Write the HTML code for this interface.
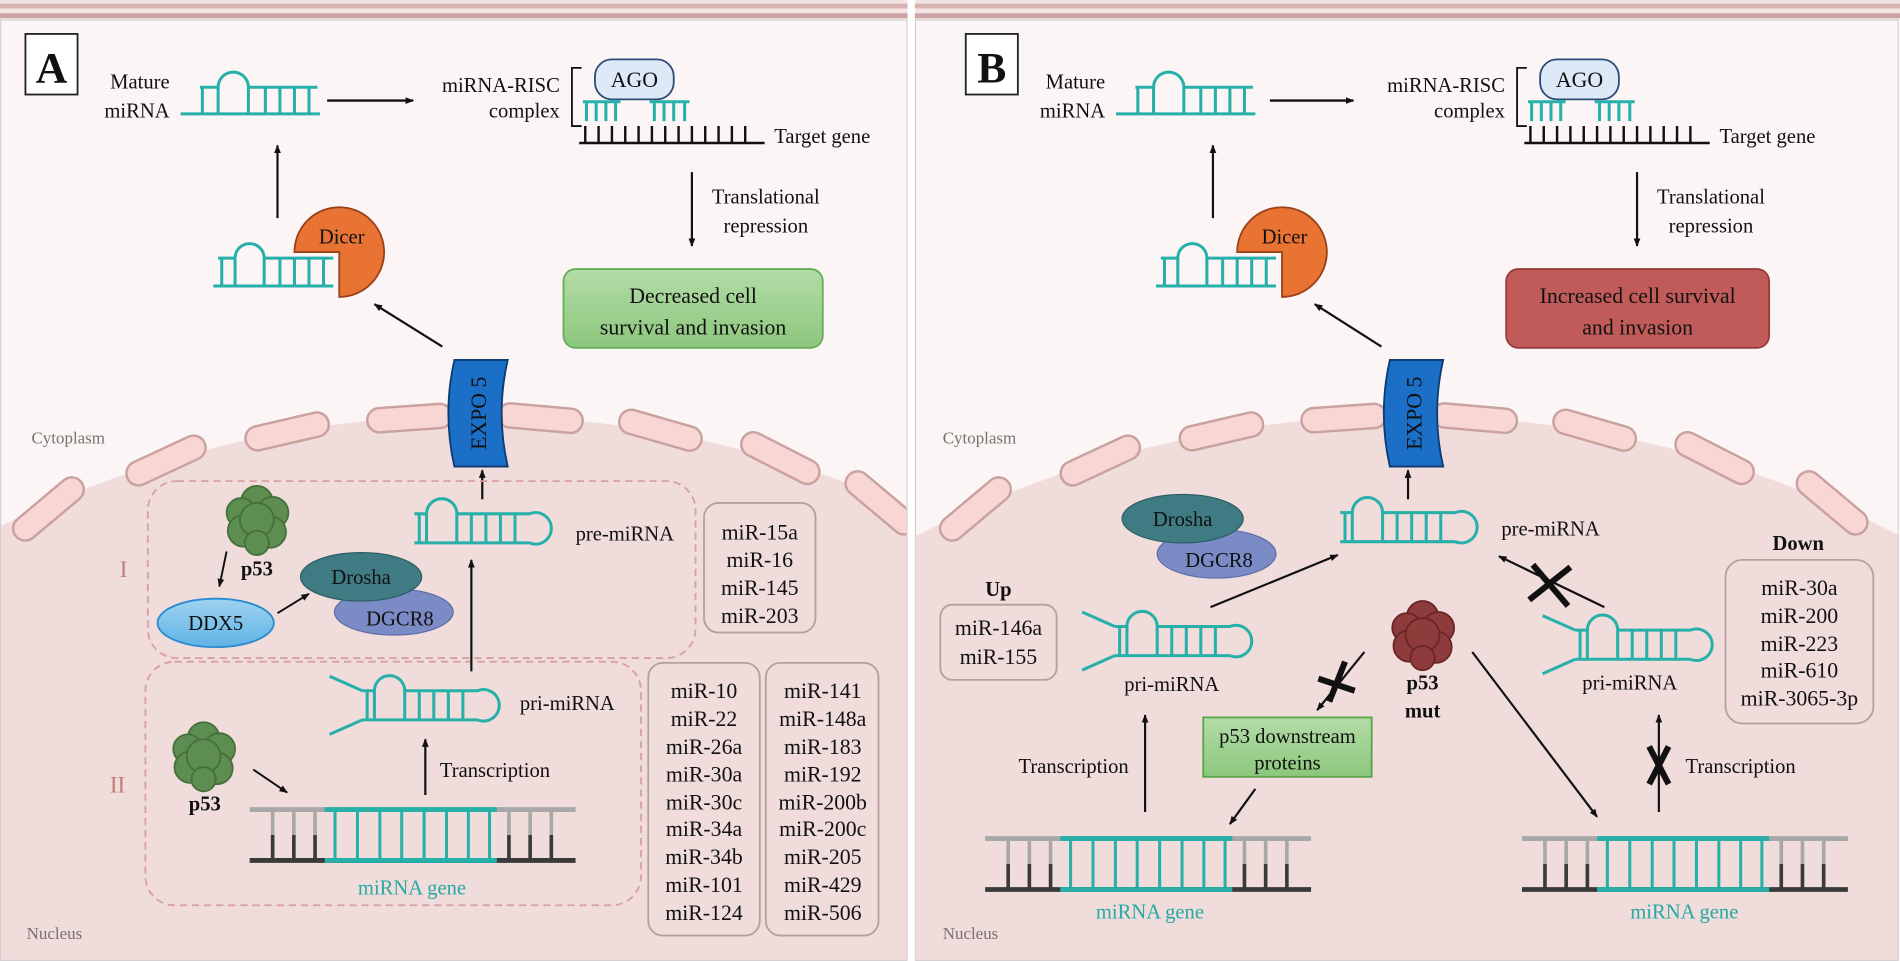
<!DOCTYPE html>
<html><head><meta charset="utf-8"><style>
html,body{margin:0;padding:0;background:#fff;width:1900px;height:961px;overflow:hidden;}
svg{display:block;position:absolute;left:0;top:0;}
text{font-family:"Liberation Serif",serif;fill:#111;}
</style></head><body>
<svg width="1900" height="961" viewBox="0 0 1568 793" preserveAspectRatio="none" xmlns="http://www.w3.org/2000/svg">
<defs>
<marker id="ah" viewBox="0 0 10 10" refX="9" refY="5" markerWidth="7" markerHeight="7" orient="auto-start-reverse" markerUnits="userSpaceOnUse"><path d="M0,1 L10,5 L0,9 Z" fill="#111"/></marker>
<clipPath id="cA"><rect x="1" y="16" width="747" height="776"/></clipPath>
<clipPath id="cB"><rect x="756" y="16" width="811" height="776"/></clipPath>
<linearGradient id="gG" x1="0" y1="0" x2="0" y2="1"><stop offset="0" stop-color="#b3dca7"/><stop offset="1" stop-color="#8cc77d"/></linearGradient>
<linearGradient id="gD" x1="0" y1="0" x2="0" y2="1"><stop offset="0" stop-color="#9fd4ef"/><stop offset="1" stop-color="#5fb2e6"/></linearGradient>
<g id="pill"><rect x="-35" y="-10" width="70" height="20" rx="10" fill="#f8d6d4" stroke="#c9a19f" stroke-width="2"/></g>
<g id="mature" fill="none" stroke="#27b0aa" stroke-width="2.5"><path d="M0,0H115 M16,-22H31 A12.5,12.5 0 0 1 56,-22 H113 M18,-22V0 M31,-22V0 M56,-22V0 M70,-22V0 M82,-22V0 M94,-22V0 M106,-22V0"/></g>
<g id="pre" fill="none" stroke="#27b0aa" stroke-width="2.5"><path d="M0,0H95 M0,-24H10 A12.5,12.5 0 0 1 35,-24 H95 A13,13 0 1 1 95,0 M4,-24V0 M10,-24V0 M35,-24V0 M47,-24V0 M59,-24V0 M71,-24V0 M83,-24V0"/></g>
<g id="pri"><use href="#pre"/><path d="M0,-24 L-27,-36 M0,0 L-27,12" stroke="#27b0aa" stroke-width="2.5" fill="none"/></g>
<g id="dna" stroke-width="3">
<path d="M19,0V21 M36.5,0V21 M54,0V21 M214,0V21 M231.5,0V21 M249,0V21" stroke="#a8a8a8"/>
<path d="M19,21V42 M36.5,21V42 M54,21V42 M214,21V42 M231.5,21V42 M249,21V42" stroke="#3a3a3a"/>
<path d="M70.5,0V42 M89,0V42 M107.5,0V42 M125.5,0V42 M144,0V42 M162.5,0V42 M180.5,0V42 M198,0V42" stroke="#27b0aa" stroke-width="2.5"/>
<path d="M0,0H269" stroke="#a8a8a8" stroke-width="4"/>
<path d="M0,42H269" stroke="#3a3a3a" stroke-width="4"/>
<path d="M62,0H204 M62,42H204" stroke="#27b0aa" stroke-width="4"/>
</g>
<g id="blob" stroke-width="1.5">
<circle cx="0" cy="-14" r="13"/><circle cx="-13" cy="-5" r="12"/><circle cx="13" cy="-5" r="13"/>
<circle cx="-11" cy="10" r="13"/><circle cx="11" cy="11" r="13"/><circle cx="0" cy="1" r="14"/><circle cx="0" cy="20" r="10"/>
</g>
</defs>

<rect x="0" y="0" width="1568" height="16" fill="#f3e4e4"/>
<rect x="0" y="3" width="1568" height="4" fill="#d9b4b3"/>
<rect x="0" y="11" width="1568" height="4" fill="#caa3a2"/>
<rect x="749" y="0" width="6" height="793" fill="#fff"/>

<g clip-path="url(#cA)">
<rect x="0" y="16" width="749" height="777" fill="#fbf6f5"/>
<circle cx="391" cy="1224" r="881" fill="#efdcdb"/>
<use href="#pill" transform="translate(40,420) rotate(-40)"/>
<use href="#pill" transform="translate(137,380) rotate(-25)"/>
<use href="#pill" transform="translate(237,356) rotate(-13)"/>
<use href="#pill" transform="translate(338,345) rotate(-4)"/>
<use href="#pill" transform="translate(446,345) rotate(5)"/>
<use href="#pill" transform="translate(545,355) rotate(16)"/>
<use href="#pill" transform="translate(644,378) rotate(27)"/>
<use href="#pill" transform="translate(727,415) rotate(40)"/>
</g>
<rect x="0.5" y="16.5" width="748" height="776" fill="none" stroke="#d6cfcf" stroke-width="1"/>

<g clip-path="url(#cB)">
<rect x="755" y="16" width="813" height="777" fill="#fbf6f5"/>
<circle cx="1162" cy="1224" r="881" fill="#efdcdb"/>
<use href="#pill" transform="translate(805,420) rotate(-40)"/>
<use href="#pill" transform="translate(908,380) rotate(-25)"/>
<use href="#pill" transform="translate(1008,356) rotate(-13)"/>
<use href="#pill" transform="translate(1109,345) rotate(-4)"/>
<use href="#pill" transform="translate(1217,345) rotate(5)"/>
<use href="#pill" transform="translate(1316,355) rotate(16)"/>
<use href="#pill" transform="translate(1415,378) rotate(27)"/>
<use href="#pill" transform="translate(1512,415) rotate(40)"/>
</g>
<rect x="755.5" y="16.5" width="811" height="776" fill="none" stroke="#d6cfcf" stroke-width="1"/>

<g id="topA">
<rect x="21" y="28" width="43" height="50" fill="#fff" stroke="#222" stroke-width="1.5"/>
<text x="42.5" y="68" font-size="36" font-weight="bold" text-anchor="middle">A</text>
<text x="140" y="73" font-size="17" text-anchor="end">Mature</text>
<text x="140" y="97" font-size="17" text-anchor="end">miRNA</text>
<use href="#mature" transform="translate(149,94)"/>
<line x1="270" y1="83" x2="341" y2="83" stroke="#111" stroke-width="2" marker-end="url(#ah)"/>
<text x="462" y="76" font-size="17" text-anchor="end">miRNA-RISC</text>
<text x="462" y="97" font-size="17" text-anchor="end">complex</text>
<path d="M480,56 H472 V104 H480" fill="none" stroke="#111" stroke-width="1.5"/>
<rect x="491" y="49" width="65" height="33" rx="14" fill="#dde9f7" stroke="#2d4b7a" stroke-width="1.5"/>
<text x="523.5" y="72" font-size="18" text-anchor="middle">AGO</text>
<path d="M481,84H512 M484,84V100 M492,84V100 M500,84V100 M508,84V100 M536,84H569 M540,84V100 M548,84V100 M556,84V100 M565,84V100" stroke="#27b0aa" stroke-width="2.5" fill="none"/>
<path d="M478,118H631 M483,104V118 M494,104V118 M505,104V118 M516,104V118 M527,104V118 M538,104V118 M549,104V118 M560,104V118 M571,104V118 M582,104V118 M593,104V118 M604,104V118 M615,104V118" stroke="#111" stroke-width="2" fill="none"/>
<text x="639" y="118" font-size="17">Target gene</text>
<line x1="571" y1="142" x2="571" y2="203" stroke="#111" stroke-width="1.8" marker-end="url(#ah)"/>
<text x="632" y="168" font-size="17" text-anchor="middle">Translational</text>
<text x="632" y="192" font-size="17" text-anchor="middle">repression</text>
<line x1="229" y1="180" x2="229" y2="120" stroke="#111" stroke-width="1.8" marker-end="url(#ah)"/>
<path d="M280,208 L243,208 A37,37 0 1 1 280,245 Z" fill="#e97332" stroke="#9a4118" stroke-width="1.5"/>
<text x="282" y="201" font-size="17" text-anchor="middle">Dicer</text>
<g fill="none" stroke="#27b0aa" stroke-width="2.5"><path d="M176,236H275 M180,213H194 A12,12 0 0 1 218,213 H275 M183,213V236 M194,213V236 M218,213V236 M231,213V236 M243,213V236 M255,213V236 M267,213V236"/></g>
</g>
<rect x="465" y="222" width="214" height="65" rx="10" fill="url(#gG)" stroke="#67ad58" stroke-width="1.5"/>
<text x="572" y="250" font-size="18" text-anchor="middle">Decreased cell</text>
<text x="572" y="276" font-size="18" text-anchor="middle">survival and invasion</text>

<g transform="translate(776,0)">
<rect x="21" y="28" width="43" height="50" fill="#fff" stroke="#222" stroke-width="1.5"/>
<text x="42.5" y="68" font-size="36" font-weight="bold" text-anchor="middle">B</text>
<text x="136" y="73" font-size="17" text-anchor="end">Mature</text>
<text x="136" y="97" font-size="17" text-anchor="end">miRNA</text>
<use href="#mature" transform="translate(145,94)"/>
<line x1="272" y1="83" x2="341" y2="83" stroke="#111" stroke-width="2" marker-end="url(#ah)"/>
<text x="466" y="76" font-size="17" text-anchor="end">miRNA-RISC</text>
<text x="466" y="97" font-size="17" text-anchor="end">complex</text>
<path d="M484,56 H476 V104 H484" fill="none" stroke="#111" stroke-width="1.5"/>
<rect x="495" y="49" width="65" height="33" rx="14" fill="#dde9f7" stroke="#2d4b7a" stroke-width="1.5"/>
<text x="527.5" y="72" font-size="18" text-anchor="middle">AGO</text>
<path d="M485,84H516 M488,84V100 M496,84V100 M504,84V100 M512,84V100 M540,84H573 M544,84V100 M552,84V100 M560,84V100 M569,84V100" stroke="#27b0aa" stroke-width="2.5" fill="none"/>
<path d="M482,118H635 M487,104V118 M498,104V118 M509,104V118 M520,104V118 M531,104V118 M542,104V118 M553,104V118 M564,104V118 M575,104V118 M586,104V118 M597,104V118 M608,104V118 M619,104V118" stroke="#111" stroke-width="2" fill="none"/>
<text x="643" y="118" font-size="17">Target gene</text>
<line x1="575" y1="142" x2="575" y2="203" stroke="#111" stroke-width="1.8" marker-end="url(#ah)"/>
<text x="636" y="168" font-size="17" text-anchor="middle">Translational</text>
<text x="636" y="192" font-size="17" text-anchor="middle">repression</text>
<line x1="225" y1="180" x2="225" y2="120" stroke="#111" stroke-width="1.8" marker-end="url(#ah)"/>
<path d="M282,208 L245,208 A37,37 0 1 1 282,245 Z" fill="#e97332" stroke="#9a4118" stroke-width="1.5"/>
<text x="284" y="201" font-size="17" text-anchor="middle">Dicer</text>
<g fill="none" stroke="#27b0aa" stroke-width="2.5"><path d="M178,236H277 M182,213H196 A12,12 0 0 1 220,213 H277 M185,213V236 M196,213V236 M220,213V236 M233,213V236 M245,213V236 M257,213V236 M269,213V236"/></g>
<rect x="467" y="222" width="217" height="65" rx="10" fill="#c15b5a" stroke="#983b3a" stroke-width="1.5"/>
<text x="575.5" y="250" font-size="18" text-anchor="middle">Increased cell survival</text>
<text x="575.5" y="276" font-size="18" text-anchor="middle">and invasion</text>
</g>

<line x1="365" y1="286" x2="309" y2="251" stroke="#111" stroke-width="1.8" marker-end="url(#ah)"/>
<path d="M375,297 L419,297 Q409,341 419,385 L375,385 Q365,341 375,297 Z" fill="#1b6fc6" stroke="#0c3b70" stroke-width="1.5"/>
<text transform="translate(401,341) rotate(-90)" font-size="18" text-anchor="middle" fill="#0a1f3a">EXPO 5</text>
<line x1="398" y1="412" x2="398" y2="388" stroke="#111" stroke-width="1.8" marker-end="url(#ah)"/>
<text x="26" y="366" font-size="14" style="fill:#7a7070">Cytoplasm</text>
<text x="22" y="775" font-size="14" style="fill:#7a7070">Nucleus</text>

<rect x="122" y="397" width="452" height="146" rx="24" fill="none" stroke="#d9a09f" stroke-width="1.5" stroke-dasharray="6,4"/>
<rect x="120" y="546" width="409" height="201" rx="24" fill="none" stroke="#d9a09f" stroke-width="1.5" stroke-dasharray="6,4"/>
<text x="102" y="476" font-size="19" text-anchor="middle" style="fill:#c47b78">I</text>
<text x="97" y="654" font-size="19" text-anchor="middle" style="fill:#c47b78">II</text>

<use href="#blob" transform="translate(212,428)" fill="#5e8d52" stroke="#44703a"/>
<text x="212" y="475" font-size="17" font-weight="bold" text-anchor="middle">p53</text>
<line x1="187" y1="455" x2="181" y2="484" stroke="#111" stroke-width="1.6" marker-end="url(#ah)"/>
<ellipse cx="178" cy="514" rx="48" ry="20" fill="url(#gD)" stroke="#2a8bd0" stroke-width="1.5"/>
<text x="178" y="520" font-size="17" text-anchor="middle">DDX5</text>
<line x1="229" y1="506" x2="255" y2="490" stroke="#111" stroke-width="1.6" marker-end="url(#ah)"/>
<ellipse cx="325" cy="505" rx="49" ry="19" fill="#7b8bc6" stroke="#5e6da8" stroke-width="1"/>
<ellipse cx="298" cy="476" rx="50" ry="20" fill="#3f7b82" stroke="#2d5e64" stroke-width="1"/>
<text x="298" y="482" font-size="17" text-anchor="middle">Drosha</text>
<text x="330" y="516" font-size="17" text-anchor="middle">DGCR8</text>

<use href="#pre" transform="translate(342,448)"/>
<text x="475" y="446" font-size="17">pre-miRNA</text>
<line x1="389" y1="554" x2="389" y2="462" stroke="#111" stroke-width="1.8" marker-end="url(#ah)"/>

<use href="#blob" transform="translate(168,623)" fill="#5e8d52" stroke="#44703a"/>
<text x="169" y="669" font-size="17" font-weight="bold" text-anchor="middle">p53</text>
<line x1="209" y1="635" x2="237" y2="654" stroke="#111" stroke-width="1.6" marker-end="url(#ah)"/>
<use href="#pri" transform="translate(299,594)"/>
<text x="429" y="586" font-size="17">pri-miRNA</text>
<line x1="351" y1="656" x2="351" y2="610" stroke="#111" stroke-width="1.8" marker-end="url(#ah)"/>
<text x="363" y="641" font-size="17">Transcription</text>
<use href="#dna" transform="translate(206,668)"/>
<text x="340" y="738" font-size="17" text-anchor="middle" style="fill:#27a9a4">miRNA gene</text>

<rect x="581" y="415" width="92" height="107" rx="12" fill="none" stroke="#b5a0a0" stroke-width="1.5"/>
<g font-size="18" text-anchor="middle">
<text x="627" y="445">miR-15a</text><text x="627" y="468">miR-16</text><text x="627" y="491">miR-145</text><text x="627" y="514">miR-203</text>
</g>
<rect x="535" y="547" width="92" height="225" rx="12" fill="none" stroke="#b5a0a0" stroke-width="1.5"/>
<rect x="632" y="547" width="93" height="225" rx="12" fill="none" stroke="#b5a0a0" stroke-width="1.5"/>
<g font-size="18" text-anchor="middle">
<text x="581" y="576">miR-10</text><text x="581" y="599">miR-22</text><text x="581" y="622">miR-26a</text><text x="581" y="645">miR-30a</text><text x="581" y="668">miR-30c</text><text x="581" y="690">miR-34a</text><text x="581" y="713">miR-34b</text><text x="581" y="736">miR-101</text><text x="581" y="759">miR-124</text>
<text x="679" y="576">miR-141</text><text x="679" y="599">miR-148a</text><text x="679" y="622">miR-183</text><text x="679" y="645">miR-192</text><text x="679" y="668">miR-200b</text><text x="679" y="690">miR-200c</text><text x="679" y="713">miR-205</text><text x="679" y="736">miR-429</text><text x="679" y="759">miR-506</text>
</g>

<line x1="1140" y1="286" x2="1085" y2="251" stroke="#111" stroke-width="1.8" marker-end="url(#ah)"/>
<path d="M1147,297 L1191,297 Q1181,341 1191,385 L1147,385 Q1137,341 1147,297 Z" fill="#1b6fc6" stroke="#0c3b70" stroke-width="1.5"/>
<text transform="translate(1173,341) rotate(-90)" font-size="18" text-anchor="middle" fill="#0a1f3a">EXPO 5</text>
<line x1="1162" y1="412" x2="1162" y2="388" stroke="#111" stroke-width="1.8" marker-end="url(#ah)"/>
<text x="778" y="366" font-size="14" style="fill:#7a7070">Cytoplasm</text>
<text x="778" y="775" font-size="14" style="fill:#7a7070">Nucleus</text>

<ellipse cx="1004" cy="457" rx="49" ry="20" fill="#7b8bc6" stroke="#5e6da8" stroke-width="1"/>
<ellipse cx="976" cy="428" rx="50" ry="20" fill="#3f7b82" stroke="#2d5e64" stroke-width="1"/>
<text x="976" y="434" font-size="17" text-anchor="middle">Drosha</text>
<text x="1006" y="468" font-size="17" text-anchor="middle">DGCR8</text>

<use href="#pre" transform="translate(1106,447)"/>
<text x="1239" y="442" font-size="17">pre-miRNA</text>

<text x="824" y="492" font-size="17" font-weight="bold" text-anchor="middle">Up</text>
<rect x="776" y="499" width="96" height="62" rx="10" fill="none" stroke="#b5a0a0" stroke-width="1.5"/>
<text x="824" y="524" font-size="18" text-anchor="middle">miR-146a</text>
<text x="824" y="548" font-size="18" text-anchor="middle">miR-155</text>

<use href="#pri" transform="translate(920,541)"/>
<text x="967" y="570" font-size="17" text-anchor="middle">pri-miRNA</text>
<line x1="999" y1="501" x2="1104" y2="458" stroke="#111" stroke-width="1.8" marker-end="url(#ah)"/>

<line x1="1324" y1="501" x2="1237" y2="459" stroke="#111" stroke-width="1.8" marker-end="url(#ah)"/>
<path d="M1265,466 L1294,500 M1296,468 L1262,495" stroke="#111" stroke-width="5" fill="none"/>

<use href="#pri" transform="translate(1300,544)"/>
<text x="1345" y="569" font-size="17" text-anchor="middle">pri-miRNA</text>

<text x="1484" y="454" font-size="17" font-weight="bold" text-anchor="middle">Down</text>
<rect x="1424" y="462" width="122" height="135" rx="14" fill="none" stroke="#b5a0a0" stroke-width="1.5"/>
<g font-size="18" text-anchor="middle">
<text x="1485" y="491">miR-30a</text><text x="1485" y="514">miR-200</text><text x="1485" y="537">miR-223</text><text x="1485" y="559">miR-610</text><text x="1485" y="582">miR-3065-3p</text>
</g>

<use href="#blob" transform="translate(1174,523)" fill="#8e3b3b" stroke="#6a2626"/>
<text x="1174" y="569" font-size="17" font-weight="bold" text-anchor="middle">p53</text>
<text x="1174" y="592" font-size="17" font-weight="bold" text-anchor="middle">mut</text>

<line x1="1126" y1="538" x2="1087" y2="586" stroke="#111" stroke-width="1.8" marker-end="url(#ah)"/>
<path d="M1110,546 L1097,579 M1088,560 L1118,570" stroke="#111" stroke-width="5" fill="none"/>

<rect x="993" y="592" width="139" height="49" fill="url(#gG)" stroke="#5aa54a" stroke-width="1.5"/>
<text x="1062.5" y="613" font-size="17" text-anchor="middle">p53 downstream</text>
<text x="1062.5" y="635" font-size="17" text-anchor="middle">proteins</text>
<line x1="1036" y1="651" x2="1015" y2="680" stroke="#111" stroke-width="1.8" marker-end="url(#ah)"/>
<line x1="1215" y1="538" x2="1318" y2="674" stroke="#111" stroke-width="1.8" marker-end="url(#ah)"/>

<line x1="945" y1="670" x2="945" y2="590" stroke="#111" stroke-width="1.8" marker-end="url(#ah)"/>
<text x="886" y="638" font-size="17" text-anchor="middle">Transcription</text>
<line x1="1369" y1="670" x2="1369" y2="590" stroke="#111" stroke-width="1.8" marker-end="url(#ah)"/>
<path d="M1361,616 L1377,647 M1377,616 L1361,647" stroke="#111" stroke-width="5" fill="none"/>
<text x="1391" y="638" font-size="17">Transcription</text>

<use href="#dna" transform="translate(813,692)"/>
<text x="949" y="758" font-size="17" text-anchor="middle" style="fill:#27a9a4">miRNA gene</text>
<use href="#dna" transform="translate(1256,692)"/>
<text x="1390" y="758" font-size="17" text-anchor="middle" style="fill:#27a9a4">miRNA gene</text>
</svg>
</body></html>
